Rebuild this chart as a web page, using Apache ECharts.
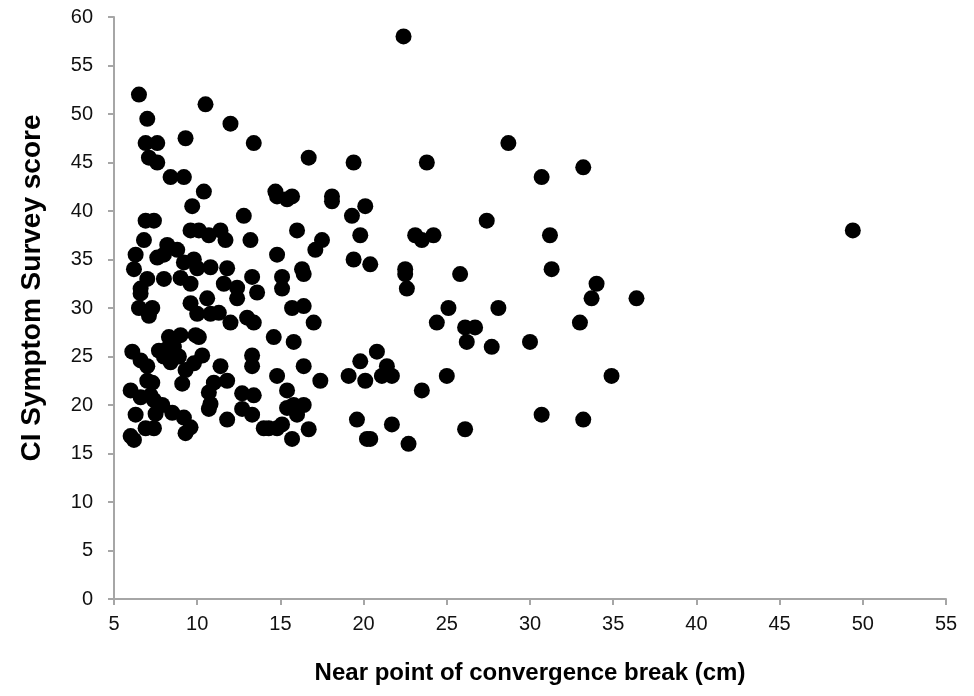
<!DOCTYPE html>
<html>
<head>
<meta charset="utf-8">
<script src="https://cdn.jsdelivr.net/npm/echarts@6/dist/echarts.min.js"></script>
<style>
  html, body { margin: 0; padding: 0; background: #fff; }
  #scatter { width: 974px; height: 696px; }
</style>
</head>
<body>
<div id="scatter"></div>
<script>
// near point of convergence break (cm) vs CI symptom survey score

// tick labels
var xTicks = [5, 10, 15, 20, 25, 30, 35, 40, 45, 50, 55];
var yTicks = [0, 5, 10, 15, 20, 25, 30, 35, 40, 45, 50, 55, 60];

// upper left cluster
var ptsUpperLeft = [
    [6.5, 52], [10.5, 51], [7, 49.5], [12, 49], [6.9, 47], [7.6, 47], [9.3, 47.5], [13.4, 47],
    [7.1, 45.5], [7.6, 45], [8.4, 43.5], [9.2, 43.5], [10.4, 42], [9.7, 40.5], [12.8, 39.5],
    [6.9, 39], [7.4, 39], [14.7, 42], [14.8, 41.5], [15.4, 41.2], [15.7, 41.5], [16.7, 45.5],
    [6.8, 37], [9.6, 38], [10.1, 38], [10.7, 37.5], [11.4, 38], [11.7, 37], [13.2, 37], [16, 38]
];

// middle left cluster (score 28 - 36)
var ptsMidLeft = [
    [6.3, 35.5], [6.2, 34], [7.6, 35.2], [8.2, 36.5], [8.8, 36], [8, 35.5], [9.2, 34.7], [9.8, 35],
    [10, 34.1], [9, 33.1], [9.6, 32.5], [7, 33], [8, 33], [10.8, 34.2], [11.8, 34.1], [14.8, 35.5],
    [16.3, 34], [16.4, 33.5], [6.6, 32], [6.6, 31.5], [11.6, 32.5], [12.4, 32.1], [12.4, 31],
    [13.3, 33.2], [13.6, 31.6], [15.1, 33.2], [15.1, 32], [6.5, 30], [7.3, 30], [7.1, 29.2],
    [9.6, 30.5], [10.6, 31], [10, 29.4], [10.8, 29.4], [11.3, 29.5], [12, 28.5], [13, 29],
    [13.4, 28.5], [15.7, 30], [16.4, 30.2], [17, 28.5]
];

// lower left cluster (score 16 - 28)
var ptsLowLeft = [
    [8.3, 27], [9, 27.2], [9.9, 27.2], [10.1, 27], [14.6, 27], [15.8, 26.5],
    [7.7, 25.6], [8.2, 25.8], [8.6, 26], [8, 25], [8.4, 24.4], [8.9, 25], [6.1, 25.5], [6.6, 24.6],
    [7, 24], [10.3, 25.1], [9.8, 24.3], [9.3, 23.6], [9.1, 22.2], [11.4, 24], [13.3, 25.1],
    [13.3, 24], [14.8, 23], [16.4, 24], [17.4, 22.5], [7, 22.5], [7.3, 22.3], [6, 21.5],
    [6.6, 20.8], [7.2, 21], [7.4, 20.5], [7.9, 20], [8.5, 19.2], [9.2, 18.7], [9.6, 17.7],
    [9.3, 17.1], [7.5, 19.1], [6.3, 19], [6, 16.8], [6.2, 16.4], [6.9, 17.6], [7.4, 17.6],
    [11, 22.3], [11.8, 22.5], [10.7, 21.3], [10.8, 20.1], [10.7, 19.6], [11.8, 18.5],
    [12.7, 21.2], [13.4, 21], [12.7, 19.6], [13.3, 19], [14, 17.6], [15.4, 21.5], [15.4, 19.7],
    [15.8, 20], [16.4, 20], [16, 19], [14.3, 17.6], [14.8, 17.6], [15.1, 18], [16.7, 17.5],
    [15.7, 16.5]
];

// 17 - 25 cm
var ptsMiddle = [
    [19.4, 45], [23.8, 45], [18.1, 41.5], [18.1, 41], [20.1, 40.5], [19.3, 39.5], [17.5, 37],
    [17.1, 36], [19.8, 37.5], [23.1, 37.5], [23.5, 37], [24.2, 37.5], [19.4, 35], [20.4, 34.5],
    [22.5, 34], [22.5, 33.5], [22.6, 32], [25.8, 33.5], [25.1, 30], [24.4, 28.5],
    [20.8, 25.5], [19.8, 24.5], [19.1, 23], [20.1, 22.5], [21.4, 24], [21.1, 23], [21.7, 23],
    [25, 23], [23.5, 21.5], [19.6, 18.5], [21.7, 18], [20.2, 16.5], [20.4, 16.5], [22.7, 16],
    [22.4, 58]
];

// right side
var ptsRight = [
    [28.7, 47], [30.7, 43.5], [33.2, 44.5], [27.4, 39], [31.2, 37.5], [31.3, 34], [34, 32.5],
    [33.7, 31], [36.4, 31], [28.1, 30], [26.1, 28], [26.7, 28], [26.2, 26.5], [27.7, 26],
    [30, 26.5], [33, 28.5], [34.9, 23], [30.7, 19], [33.2, 18.5], [26.1, 17.5], [49.4, 38]
];

var allPoints = ptsUpperLeft.concat(ptsMidLeft, ptsLowLeft, ptsMiddle, ptsRight);

var axisGrey = '#a6a6a6';
var labelFont = 'Liberation Sans, Arial, sans-serif';

var scatter = echarts.init(document.getElementById('scatter'));
scatter.setOption({
    animation: false,
    grid: {
        left: 114,
        right: 28,
        top: 17,
        bottom: 97
    },
    xAxis: {
        type: 'value',
        min: xTicks[0],
        max: xTicks[xTicks.length - 1],
        interval: 5,
        name: 'Near point of convergence break (cm)',
        nameLocation: 'middle',
        nameGap: 62,
        nameTextStyle: {
            fontFamily: labelFont,
            fontSize: 24,
            fontWeight: 'bold',
            color: '#000'
        },
        axisLine: { show: true, lineStyle: { color: axisGrey, width: 2 } },
        axisTick: { show: true, inside: false, length: 6, lineStyle: { color: axisGrey, width: 2 } },
        axisLabel: { margin: 15, fontFamily: labelFont, fontSize: 20, color: '#111' },
        splitLine: { show: false }
    },
    yAxis: {
        type: 'value',
        min: yTicks[0],
        max: yTicks[yTicks.length - 1],
        interval: 5,
        name: 'CI Symptom Survey score',
        nameLocation: 'middle',
        nameGap: 68,
        nameTextStyle: {
            fontFamily: labelFont,
            fontSize: 28,
            fontWeight: 'bold',
            color: '#000',
            padding: [0, 0, 0, 40]
        },
        axisLine: { show: true, lineStyle: { color: axisGrey, width: 2 } },
        axisTick: { show: true, inside: false, length: 6, lineStyle: { color: axisGrey, width: 2 } },
        axisLabel: { margin: 21, fontFamily: labelFont, fontSize: 20, color: '#111' },
        splitLine: { show: false }
    },
    series: [
        {
            type: 'scatter',
            symbol: 'circle',
            symbolSize: 16,
            itemStyle: { color: '#000', opacity: 1 },
            data: allPoints
        }
    ]
});
</script>
</body>
</html>
